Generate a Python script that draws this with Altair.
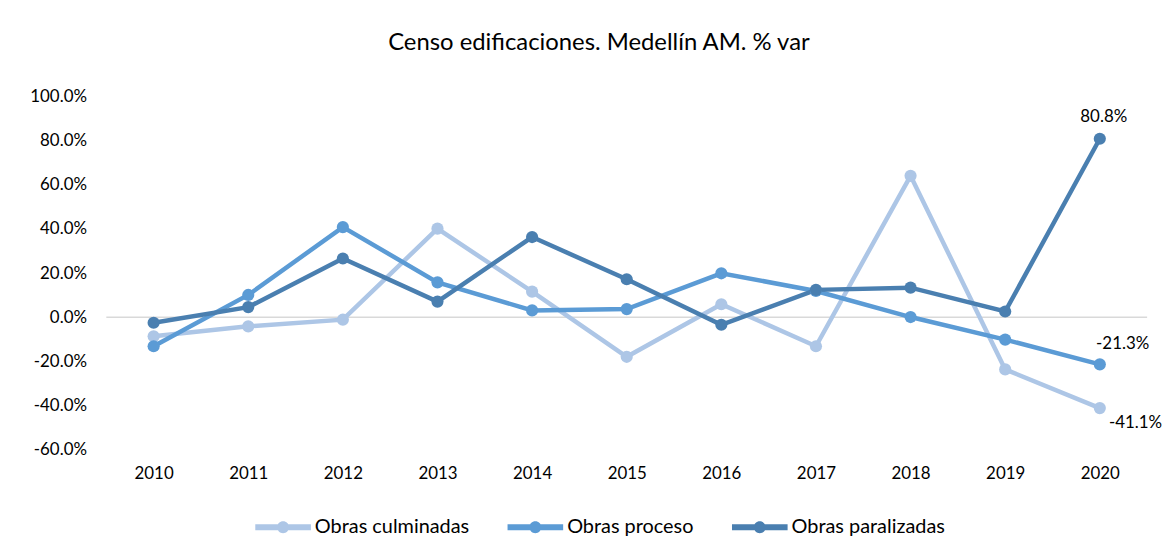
import altair as alt
import pandas as pd

years = ["2010", "2011", "2012", "2013", "2014", "2015", "2016", "2017", "2018", "2019", "2020"]
series_names = ["Obras culminadas", "Obras proceso", "Obras paralizadas"]
culminadas = [-0.086, -0.041, -0.011, 0.401, 0.116, -0.179, 0.059, -0.131, 0.640, -0.236, -0.411]
proceso = [-0.131, 0.101, 0.408, 0.158, 0.031, 0.037, 0.199, 0.119, 0.001, -0.101, -0.213]
paralizadas = [-0.025, 0.046, 0.266, 0.071, 0.363, 0.172, -0.034, 0.124, 0.134, 0.026, 0.808]
colors = ["#ADC6E6", "#5B9BD5", "#4A7FB0"]
y_ticks = [-0.6, -0.4, -0.2, 0.0, 0.2, 0.4, 0.6, 0.8, 1.0]

rows = []
for name, vals in zip(series_names, [culminadas, proceso, paralizadas]):
    for yr, v in zip(years, vals):
        rows.append({"year": yr, "serie": name, "value": v})
df = pd.DataFrame(rows)

FONT = "Lato"
MINUS_FIX = "replace(datum.label, '\u2212', '-')"
legend_path = ("M-1,-0.107H1V0.107H-1Z "
               "M-0.214,0A0.214,0.214 0 1,1 0.214,0A0.214,0.214 0 1,1 -0.214,0Z")

x_scale = alt.Scale(type="point", padding=0.5)
y_scale = alt.Scale(domain=[-0.6, 1.0], nice=False)

x_enc = alt.X("year:O", sort=years, scale=x_scale,
              axis=alt.Axis(title=None, labelAngle=0, ticks=False, domain=False,
                            labelPadding=16, labelFontSize=17, labelFont=FONT,
                            labelColor="#000000"))
y_enc = alt.Y("value:Q", scale=y_scale,
              axis=alt.Axis(title=None, format=".1%", values=y_ticks, grid=False,
                            ticks=False, domain=False, labelPadding=20,
                            labelFontSize=17, labelFont=FONT, labelColor="#000000",
                            labelExpr=MINUS_FIX))
color_enc = alt.Color("serie:N", sort=series_names,
                      scale=alt.Scale(domain=series_names, range=colors),
                      legend=alt.Legend(title=None, orient="none", direction="horizontal",
                                        legendX=150, legendY=406,
                                        symbolType=legend_path, symbolSize=3136,
                                        symbolStrokeWidth=0, labelFontSize=20,
                                        labelFont=FONT, labelColor="#000000",
                                        columnPadding=38, labelOffset=4, padding=0))

base = alt.Chart(df)

zero = alt.Chart(pd.DataFrame({"z": [0.0]})).mark_rule(color="#D9D9D9", strokeWidth=1.5).encode(
    y=alt.Y("z:Q", scale=y_scale)
)

lines = base.mark_line(strokeWidth=4.5).encode(x=x_enc, y=y_enc, color=color_enc,
                                               order=alt.Order("year:O"))
points = base.mark_point(filled=True, size=150, opacity=1).encode(x=x_enc, y=y_enc, color=color_enc)

last = df[df["year"] == "2020"]
label_offsets = {"Obras paralizadas": (4, -22), "Obras proceso": (23, -20), "Obras culminadas": (36, 15)}
labels = []
for name in series_names:
    dx, dy = label_offsets[name]
    labels.append(
        alt.Chart(last[last["serie"] == name]).transform_calculate(
            lbl="replace(format(datum.value, '.1%'), '\u2212', '-')"
        ).mark_text(
            dx=dx, dy=dy, fontSize=17, font=FONT, color="#000000"
        ).encode(x=alt.X("year:O", sort=years, scale=x_scale),
                 y=alt.Y("value:Q", scale=y_scale),
                 text=alt.Text("lbl:N"))
    )

chart = alt.layer(zero, lines, points, *labels).properties(
    width=1048, height=356,
    title=alt.Title("Censo edificaciones. Medellín AM. % var", fontSize=24,
                    font=FONT, fontWeight="normal", color="#000000", offset=33, dx=-28),
    autosize=alt.AutoSizeParams(type="none"),
    padding={"left": 99, "top": 87, "right": 16, "bottom": 108},
).configure(background="white").configure_view(strokeWidth=0, stroke="transparent")

chart.save("out.html", embed_options={"renderer": "svg", "actions": False})
